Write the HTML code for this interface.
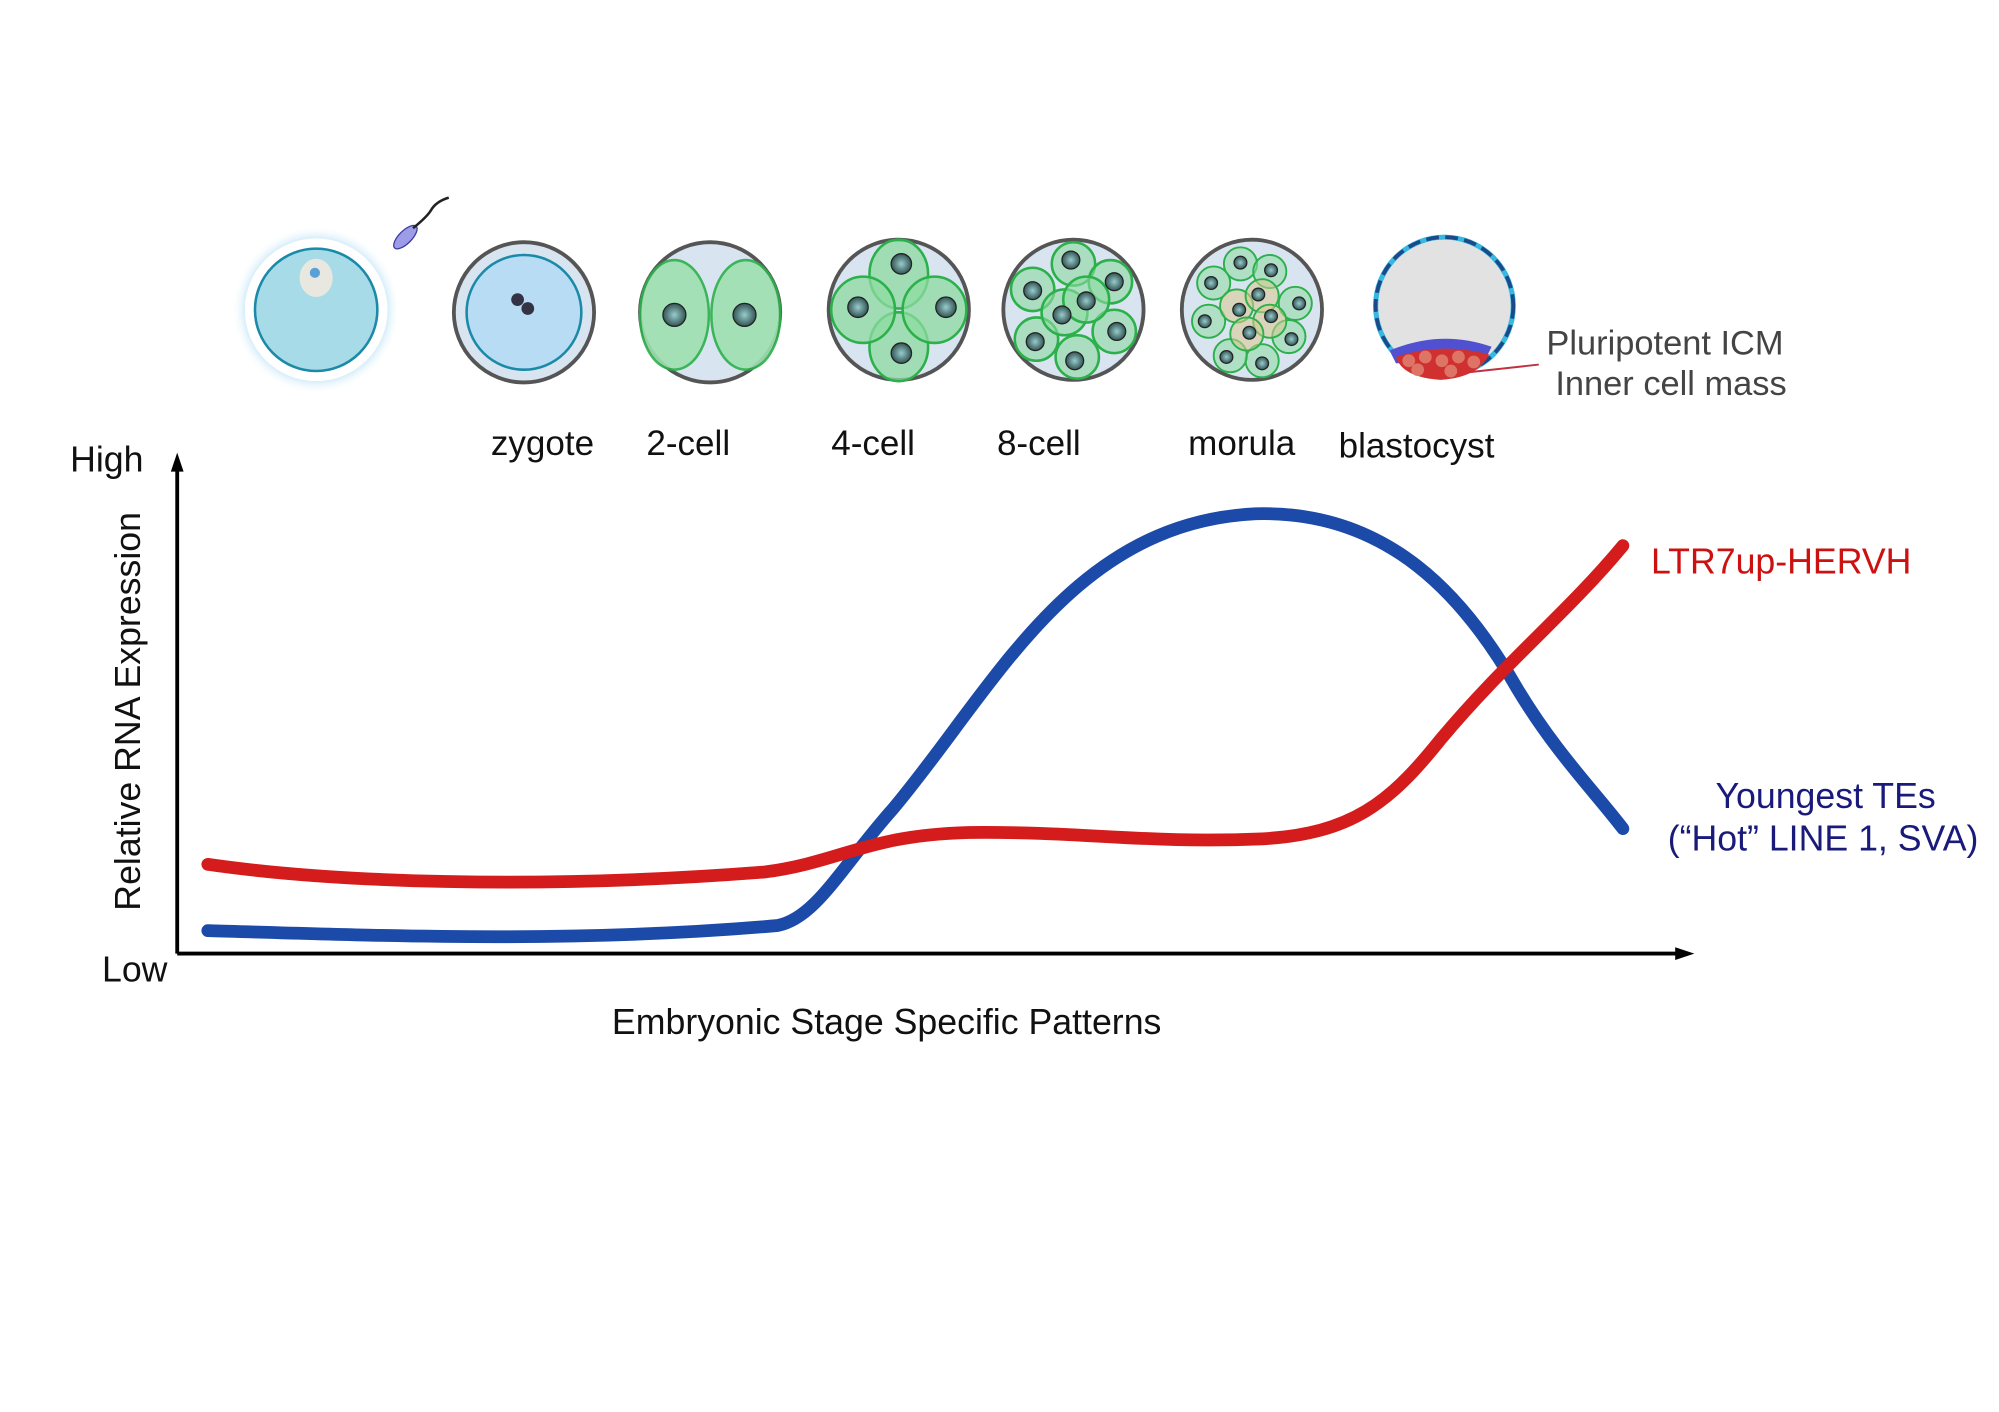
<!DOCTYPE html>
<html><head><meta charset="utf-8"><style>
html,body{margin:0;padding:0;background:#fff;}
svg{display:block;}
text{font-family:"Liberation Sans",sans-serif;}
</style></head><body>
<svg width="1999" height="1412" viewBox="0 0 1568 1107.6" preserveAspectRatio="none" xmlns="http://www.w3.org/2000/svg">
<defs>
<radialGradient id="glow"><stop offset="0.75" stop-color="#8fd0f0"/><stop offset="1" stop-color="#ffffff" stop-opacity="0"/></radialGradient>
<radialGradient id="nuc"><stop offset="0" stop-color="#9cc"/><stop offset="1" stop-color="#355"/></radialGradient>
</defs>
<!-- egg -->
<circle cx="248" cy="243" r="66" fill="url(#glow)"/>
<circle cx="248" cy="243" r="56" fill="#fff"/>
<circle cx="248" cy="243" r="48" fill="#a8dbe8" stroke="#1a8aa8" stroke-width="2"/>
<ellipse cx="248" cy="218" rx="13" ry="15" fill="#e8e8e0"/>
<circle cx="247" cy="214" r="4" fill="#5aa0d8"/>
<ellipse cx="318" cy="186" rx="5" ry="12" transform="rotate(45 318 186)" fill="#9c9ce8" stroke="#3a3aa0"/>
<path d="M324 179 Q335 170 338 165 Q342 158 352 155" fill="none" stroke="#222" stroke-width="2"/>
<!-- zygote -->
<circle cx="411" cy="245" r="55" fill="#d8e4f0" stroke="#555" stroke-width="3"/>
<circle cx="411" cy="245" r="45" fill="#b8dcf4" stroke="#1a8aa8" stroke-width="2"/>
<circle cx="406" cy="235" r="5" fill="#334" /><circle cx="414" cy="242" r="5" fill="#334"/>
<!-- 2-cell -->
<circle cx="557" cy="245" r="55" fill="#d8e4f0" stroke="#555" stroke-width="3"/>
<ellipse cx="529" cy="247" rx="27" ry="43" fill="#9fe0b0" stroke="#2bb04a" stroke-width="2" opacity=".9"/>
<ellipse cx="585" cy="247" rx="27" ry="43" fill="#9fe0b0" stroke="#2bb04a" stroke-width="2" opacity=".9"/>
<circle cx="529" cy="247" r="9" fill="url(#nuc)" stroke="#222"/><circle cx="584" cy="247" r="9" fill="url(#nuc)" stroke="#222"/>
<!-- 4-cell -->
<circle cx="705" cy="243" r="55" fill="#d8e4f0" stroke="#555" stroke-width="3"/>
<g fill="#8edba2" fill-opacity=".75" stroke="#2bb04a" stroke-width="2">
<ellipse cx="705" cy="215" rx="23" ry="27"/><ellipse cx="705" cy="272" rx="23" ry="27"/>
<ellipse cx="677" cy="243" rx="25" ry="26"/><ellipse cx="733" cy="243" rx="25" ry="26"/></g>
<g fill="url(#nuc)" stroke="#222"><circle cx="707" cy="207" r="8"/><circle cx="707" cy="277" r="8"/><circle cx="673" cy="241" r="8"/><circle cx="742" cy="241" r="8"/></g>
<!-- 8-cell -->
<circle cx="842" cy="243" r="55" fill="#d8e4f0" stroke="#555" stroke-width="3"/>
<g fill="#8edba2" fill-opacity=".6" stroke="#2bb04a" stroke-width="2">
<circle cx="842" cy="207" r="17"/><circle cx="871" cy="221" r="17"/><circle cx="874" cy="260" r="17"/><circle cx="845" cy="280" r="17"/>
<circle cx="813" cy="266" r="17"/><circle cx="810" cy="227" r="17"/><circle cx="835" cy="245" r="18"/><circle cx="852" cy="235" r="18"/></g>
<g fill="url(#nuc)" stroke="#222"><circle cx="840" cy="204" r="7"/><circle cx="874" cy="221" r="7"/><circle cx="876" cy="260" r="7"/><circle cx="843" cy="283" r="7"/><circle cx="812" cy="268" r="7"/><circle cx="810" cy="228" r="7"/><circle cx="833" cy="247" r="7"/><circle cx="852" cy="236" r="7"/></g>
<!-- morula -->
<circle cx="982" cy="243" r="55" fill="#d8e4f0" stroke="#555" stroke-width="3"/>
<g fill="#8edba2" fill-opacity=".55" stroke="#2bb04a" stroke-width="1.5">
<circle cx="973" cy="207" r="13"/><circle cx="996" cy="213" r="13"/><circle cx="1016" cy="238" r="13"/><circle cx="1011" cy="264" r="13"/><circle cx="990" cy="283" r="13"/><circle cx="965" cy="279" r="13"/><circle cx="948" cy="252" r="13"/><circle cx="952" cy="222" r="13"/>
<circle cx="970" cy="240" r="13" fill="#d8c890"/><circle cx="990" cy="232" r="13" fill="#d8c890"/><circle cx="996" cy="252" r="13" fill="#d8c890"/><circle cx="978" cy="262" r="13" fill="#d8c890"/></g>
<g fill="url(#nuc)" stroke="#222"><circle cx="973" cy="206" r="5"/><circle cx="997" cy="212" r="5"/><circle cx="1019" cy="238" r="5"/><circle cx="1013" cy="266" r="5"/><circle cx="990" cy="285" r="5"/><circle cx="962" cy="280" r="5"/><circle cx="945" cy="252" r="5"/><circle cx="950" cy="222" r="5"/><circle cx="972" cy="243" r="5"/><circle cx="987" cy="231" r="5"/><circle cx="997" cy="248" r="5"/><circle cx="980" cy="261" r="5"/></g>
<!-- blastocyst -->
<circle cx="1133" cy="240" r="54" fill="#e2e2e2" stroke="#36b8e0" stroke-width="4"/>
<circle cx="1133" cy="240" r="54" fill="none" stroke="#1a4a8a" stroke-width="3" stroke-dasharray="10 5"/>
<path d="M1090 275 Q1130 258 1170 272 L1165 282 L1095 285 Z" fill="#5050d0"/>
<path d="M1095 280 Q1130 268 1168 278 Q1160 296 1130 298 Q1100 296 1095 280 Z" fill="#d03030"/>
<g fill="#e08070" opacity=".85"><circle cx="1105" cy="283" r="5"/><circle cx="1118" cy="280" r="5"/><circle cx="1131" cy="283" r="5"/><circle cx="1144" cy="280" r="5"/><circle cx="1156" cy="284" r="5"/><circle cx="1112" cy="290" r="5"/><circle cx="1138" cy="291" r="5"/></g>
<line x1="1152" y1="292" x2="1207" y2="286" stroke="#c03040" stroke-width="1.5"/>
<g font-size="27" fill="#444"><text x="1213" y="278">Pluripotent ICM</text><text x="1220" y="310">Inner cell mass</text></g>
<g font-size="27.5" fill="#111"><text x="385" y="357">zygote</text><text x="507" y="357">2-cell</text><text x="652" y="357">4-cell</text><text x="782" y="357">8-cell</text><text x="932" y="357">morula</text><text x="1050" y="359">blastocyst</text></g>
<!-- axes -->
<line x1="139" y1="748" x2="139" y2="365" stroke="#000" stroke-width="3"/>
<path d="M139 355 L134 370 L144 370 Z" fill="#000"/>
<line x1="139" y1="748" x2="1318" y2="748" stroke="#000" stroke-width="3"/>
<path d="M1329 748 L1314 743 L1314 753 Z" fill="#000"/>
<g font-size="28" fill="#111"><text x="55" y="370">High</text><text x="80" y="770">Low</text>
<text x="480" y="811">Embryonic Stage Specific Patterns</text>
<text transform="translate(110 558) rotate(-90)" text-anchor="middle">Relative RNA Expression</text></g>
<!-- curves -->
<path d="M163 730 C300 734 450 740 610 726 C640 720 660 680 700 635 C780 540 840 410 985 403 C1090 400 1150 470 1190 540 C1220 590 1250 620 1273 650" fill="none" stroke="#1c4aa8" stroke-width="10" stroke-linecap="round"/>
<path d="M163 678 C260 692 420 698 600 684 C660 676 680 655 760 653 C850 652 900 662 990 658 C1060 654 1090 630 1130 580 C1180 520 1230 480 1273 428" fill="none" stroke="#d41c1c" stroke-width="10" stroke-linecap="round"/>
<text x="1295" y="450" font-size="28" fill="#cc1111">LTR7up-HERVH</text>
<g font-size="28" fill="#1a1a7a" text-anchor="middle"><text x="1432" y="634">Youngest TEs</text><text x="1430" y="667">(“Hot” LINE 1, SVA)</text></g>
</svg>
</body></html>
